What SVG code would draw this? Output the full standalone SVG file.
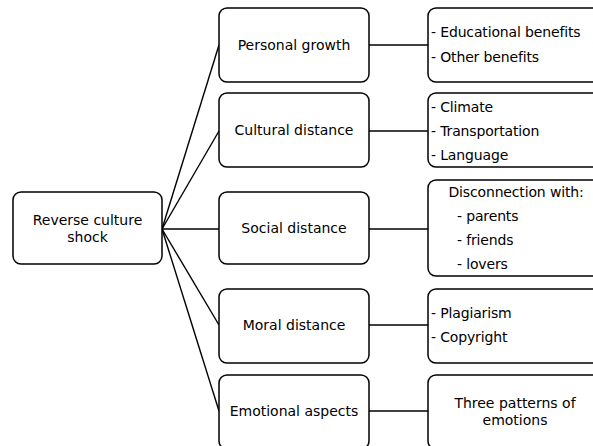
<svg xmlns="http://www.w3.org/2000/svg" width="593" height="446" viewBox="0 0 593 446">
<style>
.box{fill:#fff;stroke:#000;stroke-width:1.5}
.t{font-family:"DejaVu Sans",sans-serif;font-size:14px;fill:#000}
.r{letter-spacing:-0.15px}
.c{text-anchor:middle}
.ln{stroke:#000;stroke-width:1.4;fill:none}
</style>
<rect width="593" height="446" fill="#fff"/>
<g id="connectors">
<line class="ln" x1="162" y1="229" x2="219" y2="45"/>
<line class="ln" x1="162" y1="229" x2="219" y2="131"/>
<line class="ln" x1="162" y1="229" x2="219" y2="229"/>
<line class="ln" x1="162" y1="229" x2="219" y2="325"/>
<line class="ln" x1="162" y1="229" x2="219" y2="411"/>
<line class="ln" x1="369" y1="45" x2="428" y2="45"/>
<line class="ln" x1="369" y1="131" x2="428" y2="131"/>
<line class="ln" x1="369" y1="229" x2="428" y2="229"/>
<line class="ln" x1="369" y1="325" x2="428" y2="325"/>
<line class="ln" x1="369" y1="411" x2="428" y2="411"/>
</g>
<g id="root">
<rect class="box" x="13" y="192" width="149" height="72" rx="8"/>
<text class="t c" x="87.5" y="225">Reverse culture</text>
<text class="t c" x="87.5" y="242">shock</text>
</g>
<g id="personal">
<rect class="box" x="219" y="8" width="150" height="74" rx="8"/>
<text class="t c" x="294" y="50">Personal growth</text>
</g>
<g id="cultural">
<rect class="box" x="219" y="93" width="150" height="74" rx="8"/>
<text class="t c" x="294" y="135">Cultural distance</text>
</g>
<g id="social">
<rect class="box" x="219" y="192" width="150" height="72" rx="8"/>
<text class="t c" x="294" y="233">Social distance</text>
</g>
<g id="moral">
<rect class="box" x="219" y="289" width="150" height="74" rx="8"/>
<text class="t c" x="294" y="330">Moral distance</text>
</g>
<g id="emotional">
<rect class="box" x="219" y="375" width="150" height="74" rx="8"/>
<text class="t c" x="294" y="416">Emotional aspects</text>
</g>
<g id="personal-details">
<rect class="box" x="428" y="8" width="175" height="74" rx="8"/>
<text class="t r" x="431" y="37">- Educational benefits</text>
<text class="t r" x="431" y="62">- Other benefits</text>
</g>
<g id="cultural-details">
<rect class="box" x="428" y="93" width="175" height="74" rx="8"/>
<text class="t r" x="431" y="112">- Climate</text>
<text class="t r" x="431" y="136">- Transportation</text>
<text class="t r" x="431" y="160">- Language</text>
</g>
<g id="social-details">
<rect class="box" x="428" y="180" width="175" height="96" rx="8"/>
<text class="t c r" x="516" y="197">Disconnection with:</text>
<text class="t r" x="457" y="221">- parents</text>
<text class="t r" x="457" y="245">- friends</text>
<text class="t r" x="457" y="269">- lovers</text>
</g>
<g id="moral-details">
<rect class="box" x="428" y="289" width="175" height="74" rx="8"/>
<text class="t r" x="431" y="318">- Plagiarism</text>
<text class="t r" x="431" y="342">- Copyright</text>
</g>
<g id="emotional-details">
<rect class="box" x="428" y="375" width="175" height="74" rx="8"/>
<text class="t c" x="515" y="408">Three patterns of</text>
<text class="t c" x="515" y="425">emotions</text>
</g>
</svg>
